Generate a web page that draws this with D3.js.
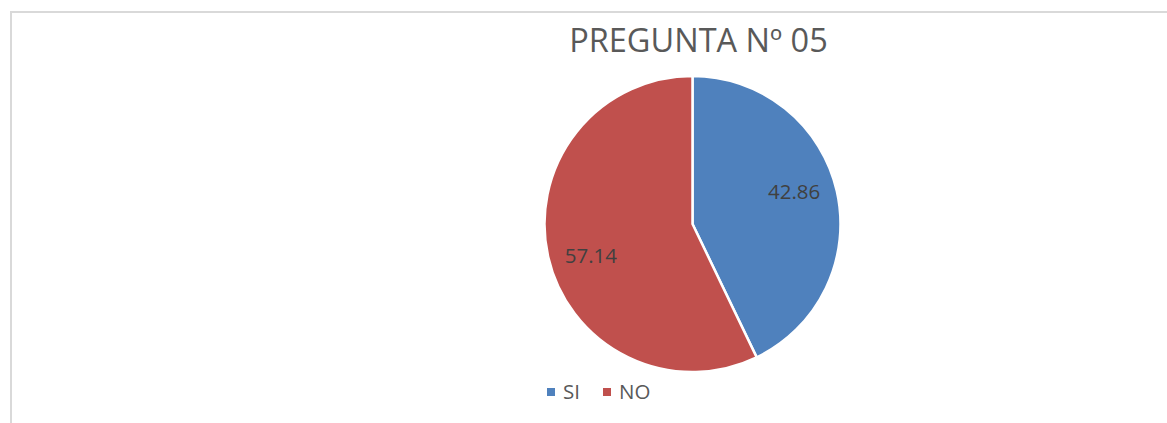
<!DOCTYPE html>
<html>
<head>
<meta charset="utf-8">
<script src="https://cdn.jsdelivr.net/npm/d3@7"></script>
<style>
  body { margin: 0; background: #fff; }
  svg text { font-family: "Open Sans", sans-serif; }
</style>
</head>
<body>
<svg width="1167" height="423"></svg>
<script>
const title = 'PREGUNTA Nº 05';
const categories = ['SI', 'NO'];
const values = [42.86, 57.14];
const colors = ['#4f81bd', '#c0504d'];

const svg = d3.select('svg');

// chart area border (only top and left visible in the crop)
svg.append('path')
  .attr('d', 'M11,423 V12 H1167')
  .attr('fill', 'none')
  .attr('stroke', '#d9d9d9')
  .attr('stroke-width', 2);

svg.append('text')
  .attr('x', 698.5)
  .attr('y', 52)
  .attr('text-anchor', 'middle')
  .attr('font-size', 32.5)
  .attr('fill', '#595959')
  .text(title);

const cx = 692.5, cy = 224, r = 148;

const data = categories.map((c, i) => ({ name: c, value: values[i] }));

const pie = d3.pie()
  .value(d => d.value)
  .sort(null);

const arc = d3.arc()
  .innerRadius(0)
  .outerRadius(r);

const labelArc = d3.arc()
  .innerRadius(r * 0.72)
  .outerRadius(r * 0.72);

const color = d3.scaleOrdinal()
  .domain(categories)
  .range(colors);

const g = svg.append('g')
  .attr('transform', `translate(${cx},${cy})`);

const slices = g.selectAll('g.slice')
  .data(pie(data))
  .enter()
  .append('g')
  .attr('class', 'slice');

slices.append('path')
  .attr('d', arc)
  .attr('fill', d => color(d.data.name))
  .attr('stroke', '#fff')
  .attr('stroke-width', 2.5);

// labels sit a bit before the slice middle (best fit)
const shift = 0.08;
slices.append('text')
  .attr('transform', d => `translate(${labelArc.centroid({ startAngle: d.startAngle - shift, endAngle: d.endAngle - shift })})`)
  .attr('text-anchor', 'middle')
  .attr('dy', '0.35em')
  .attr('font-size', 20.5)
  .attr('fill', '#404040')
  .text(d => d.data.value.toFixed(2));

// legend
const legendX = [547, 603];
const legend = svg.selectAll('g.legend')
  .data(categories)
  .enter()
  .append('g')
  .attr('class', 'legend')
  .attr('transform', (d, i) => `translate(${legendX[i]},392)`);

legend.append('rect')
  .attr('x', 0)
  .attr('y', -4)
  .attr('width', 8)
  .attr('height', 8)
  .attr('fill', d => color(d));

legend.append('text')
  .attr('x', 16)
  .attr('dy', '0.35em')
  .attr('font-size', 20.5)
  .attr('fill', '#595959')
  .text(d => d);
</script>
</body>
</html>
